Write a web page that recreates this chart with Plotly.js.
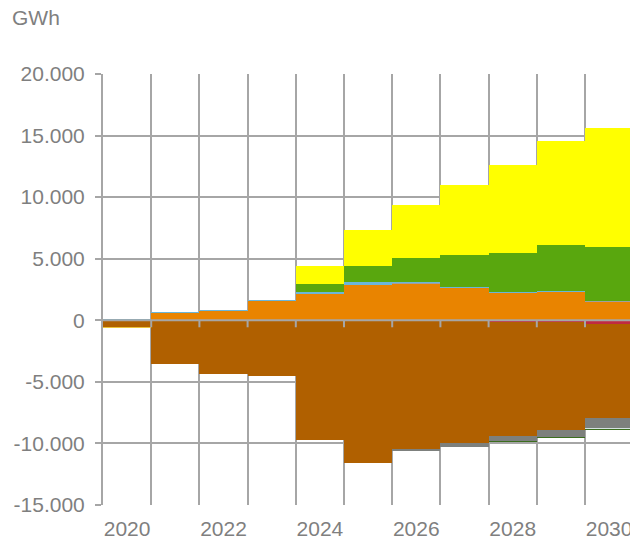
<!DOCTYPE html>
<html>
<head>
<meta charset="utf-8">
<script src="https://cdn.plot.ly/plotly-3.0.1.min.js"></script>
<style>html,body{margin:0;padding:0;background:#fff;overflow:hidden}</style>
</head>
<body>
<div id="chart" style="width:630px;height:541px"></div>
<script>
// ---- data (GWh) ----
const years = [2020, 2021, 2022, 2023, 2024, 2025, 2026, 2027, 2028, 2029, 2030];
const orangeVals = [0, 630, 760, 1570, 2130, 2860, 2950, 2600, 2190, 2270, 1510];
const greyPosVals = [0, 0, 0, 0, 40, 40, 50, 40, 40, 40, 30];
const blueVals = [80, 60, 60, 70, 130, 200, 150, 80, 60, 70, 60];
const greenVals = [0, 0, 0, 0, 610, 1320, 1900, 2560, 3210, 3720, 4360];
const yellowVals = [0, 0, 0, 0, 1490, 2900, 4330, 5680, 7120, 8500, 9690];
const redVals = [0, 0, 0, 0, 0, 0, 0, 0, -100, -150, -300];
const brownVals = [-570, -3550, -4360, -4500, -9720, -11610, -10450, -9990, -9300, -8760, -7660];
const goldNegVals = [-60, 0, 0, 0, 0, 0, 0, 0, 0, 0, 0];
const greyNegVals = [0, 0, 0, 0, 0, 0, -130, -275, -380, -540, -810];
const lightNegVals = [0, 0, 0, 0, 0, 0, 0, 0, -50, -60, -50];
const greenNegVals = [0, 0, 0, 0, 0, 0, 0, 0, -60, -60, -120];

const xTickVals = [2020, 2022, 2024, 2026, 2028, 2030];
const xTickText = ['2020', '2022', '2024', '2026', '2028', '2030'];
const yTickVals = [-15000, -10000, -5000, 0, 5000, 10000, 15000, 20000];
const yTickText = ['-15.000', '-10.000', '-5.000', '0', '5.000', '10.000', '15.000', '20.000'];
const unitLabel = 'GWh';

// ---- traces ----
const series = [
  {y: orangeVals, c: '#E98400'},
  {y: greyPosVals, c: '#A0A0A0'},
  {y: blueVals, c: '#6BB6D8'},
  {y: greenVals, c: '#59A70E'},
  {y: yellowVals, c: '#FFFF00'},
  {y: redVals, c: '#C02A42'},
  {y: brownVals, c: '#B06000'},
  {y: goldNegVals, c: '#EBC23A'},
  {y: greyNegVals, c: '#7D807D'},
  {y: lightNegVals, c: '#D5E2E2'},
  {y: greenNegVals, c: '#3C6E1E'}
];
const traces = series.map(s => ({
  type: 'bar', x: years, y: s.y,
  marker: {color: s.c, line: {width: 0}},
  hoverinfo: 'skip', showlegend: false
}));

const gridColor = '#A6A6A6';
const boundaries = years.map(y => y - 0.5).concat([years[years.length - 1] + 0.5]);

const shapes = [{
  type: 'line', xref: 'x', yref: 'y', layer: 'above',
  x0: boundaries[0], x1: boundaries[boundaries.length - 1], y0: 0, y1: 0,
  line: {color: gridColor, width: 2}
}];
boundaries.slice(1).forEach(b => shapes.push({
  type: 'line', xref: 'x', yref: 'y', layer: 'above', ysizemode: 'pixel', yanchor: 0,
  x0: b, x1: b, y0: 0, y1: -7,
  line: {color: gridColor, width: 2}
}));

const tickFont = {family: 'Liberation Sans, Arial, sans-serif', size: 21, color: '#7F7F7F'};

const layout = {
  width: 630, height: 541,
  margin: {l: 103, r: 0, t: 74, b: 36},
  paper_bgcolor: '#fff', plot_bgcolor: '#fff',
  barmode: 'relative', bargap: 0,
  showlegend: false,
  title: {
    text: unitLabel, font: {family: 'Liberation Sans, Arial, sans-serif', size: 21, color: '#7F7F7F'},
    x: 12 / 630, xref: 'container', xanchor: 'left', y: 1 - 18 / 541, yref: 'container', yanchor: 'middle'
  },
  xaxis: {
    range: [2019.5, 2019.5 + 527 / 48.2],
    tickmode: 'array', tickvals: boundaries, showticklabels: false,
    showgrid: true, gridcolor: gridColor, gridwidth: 2,
    zeroline: false, showline: false, ticks: ''
  },
  xaxis2: {
    overlaying: 'x', matches: 'x', side: 'bottom',
    tickmode: 'array', tickvals: xTickVals, ticktext: xTickText,
    showgrid: false, zeroline: false, showline: false, ticks: '',
    tickfont: tickFont, ticklabelstandoff: 9, ticklabeloverflow: 'allow'
  },
  yaxis: {
    range: [-15000, 20000],
    tickmode: 'array', tickvals: yTickVals, ticktext: yTickText,
    showgrid: true, gridcolor: gridColor, gridwidth: 2,
    zeroline: false, showline: true, linecolor: gridColor, linewidth: 2,
    ticks: 'outside', ticklen: 6, tickcolor: gridColor, tickwidth: 2,
    tickfont: tickFont, ticklabelstandoff: 6
  },
  shapes: shapes
};

// invisible helper trace so the label axis (xaxis2) is drawn
traces.push({type: 'scatter', x: [years[0]], y: [0], xaxis: 'x2', mode: 'markers',
  marker: {opacity: 0}, hoverinfo: 'skip', showlegend: false});

Plotly.newPlot('chart', traces, layout, {staticPlot: true, displayModeBar: false});
</script>
</body>
</html>
